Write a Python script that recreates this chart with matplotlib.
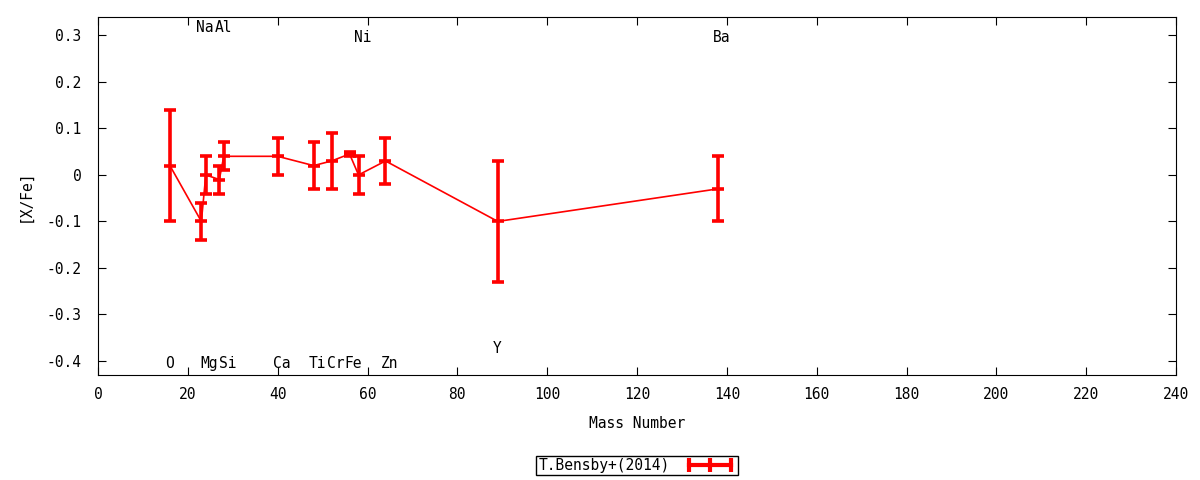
import matplotlib
matplotlib.use('Agg')
import matplotlib.pyplot as plt
from matplotlib.lines import Line2D

plt.rcParams['font.family'] = ['DejaVu Sans Mono']

# abundance pattern, T.Bensby+(2014)
mass = [16, 23, 24, 27, 28, 40, 48, 52, 56, 58, 64, 89, 138]
xfe = [0.02, -0.10, 0.00, -0.01, 0.04, 0.04, 0.02, 0.03, 0.045, 0.00, 0.03, -0.10, -0.03]
err = [0.12, 0.04, 0.04, 0.03, 0.03, 0.04, 0.05, 0.06, 0.005, 0.04, 0.05, 0.13, 0.07]

# element labels: name, x, y
lab_names = ['O', 'Na', 'Mg', 'Al', 'Si', 'Ca', 'Ti', 'Cr', 'Fe', 'Ni', 'Zn', 'Y', 'Ba']
lab_x = [16, 23, 24, 27, 28, 40, 48, 52, 56, 58, 64, 89, 138]
lab_y = [-0.405, 0.318, -0.405, 0.318, -0.405, -0.405, -0.405, -0.405, -0.405, 0.296, -0.405, -0.374, 0.296]

fig = plt.figure(figsize=(12, 4.8), dpi=100)
ax = fig.add_axes([0.0817, 0.219, 0.8983, 0.746])

ax.errorbar(mass, xfe, yerr=err, color='red', lw=1.2, elinewidth=2.6,
            capsize=4, capthick=2.6, marker='_', markersize=9, mew=2.6)

for name, x, y in zip(lab_names, lab_x, lab_y):
    ax.annotate(name, (x, y), xytext=(-5, 0), textcoords='offset pixels',
                ha='left', va='center', fontsize=10.5)

ax.set_xlim(0, 240)
ax.set_ylim(-0.43, 0.34)
ax.set_xticks(range(0, 241, 20))
ax.set_yticks([-0.4, -0.3, -0.2, -0.1, 0, 0.1, 0.2, 0.3])
ax.set_yticklabels(['-0.4', '-0.3', '-0.2', '-0.1', '0', '0.1', '0.2', '0.3'])
ax.tick_params(direction='in', top=True, right=True, length=6, labelsize=10.5)
ax.tick_params(axis='y', pad=12)
ax.tick_params(axis='x', pad=9)
ax.set_xlabel('Mass Number', fontsize=10.5, labelpad=10)
ax.set_ylabel('[X/Fe]', fontsize=10.5, labelpad=10)

handle = Line2D([], [], color='red', lw=3, marker='|', markersize=10, mew=3)
leg = ax.legend([handle], ['T.Bensby+(2014)'], loc='upper center',
                bbox_to_anchor=(0.5, -0.205), numpoints=3, markerfirst=False,
                fancybox=False, edgecolor='black', framealpha=1,
                fontsize=10.5, borderpad=0.15, handlelength=3.5, handletextpad=1)
leg.get_frame().set_linewidth(1)

plt.savefig('out.png')
